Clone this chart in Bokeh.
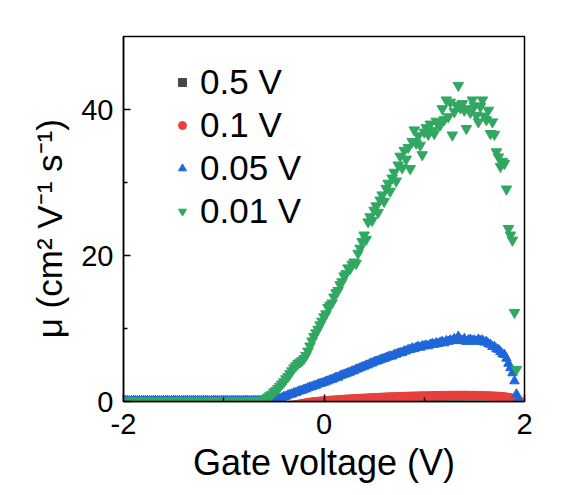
from bokeh.plotting import figure
from bokeh.models import Range1d, FixedTicker, Legend, LegendItem, ColumnDataSource
from bokeh.embed import file_html
from bokeh.resources import INLINE

# ---------------- data ----------------
gate_v = [
    -2.00, -1.98, -1.96, -1.94, -1.92, -1.90, -1.88, -1.86, -1.84, -1.82,
    -1.80, -1.78, -1.76, -1.74, -1.72, -1.70, -1.68, -1.66, -1.64, -1.62,
    -1.60, -1.58, -1.56, -1.54, -1.52, -1.50, -1.48, -1.46, -1.44, -1.42,
    -1.40, -1.38, -1.36, -1.34, -1.32, -1.30, -1.28, -1.26, -1.24, -1.22,
    -1.20, -1.18, -1.16, -1.14, -1.12, -1.10, -1.08, -1.06, -1.04, -1.02,
    -1.00, -0.98, -0.96, -0.94, -0.92, -0.90, -0.88, -0.86, -0.84, -0.82,
    -0.80, -0.78, -0.76, -0.74, -0.72, -0.70, -0.68, -0.66, -0.64, -0.62,
    -0.60, -0.58, -0.56, -0.54, -0.52, -0.50, -0.48, -0.46, -0.44, -0.42,
    -0.40, -0.38, -0.36, -0.34, -0.32, -0.30, -0.28, -0.26, -0.24, -0.22,
    -0.20, -0.18, -0.16, -0.14, -0.12, -0.10, -0.08, -0.06, -0.04, -0.02,
    0.00, 0.02, 0.04, 0.06, 0.08, 0.10, 0.12, 0.14, 0.16, 0.18,
    0.20, 0.22, 0.24, 0.26, 0.28, 0.30, 0.32, 0.34, 0.36, 0.38,
    0.40, 0.42, 0.44, 0.46, 0.48, 0.50, 0.52, 0.54, 0.56, 0.58,
    0.60, 0.62, 0.64, 0.66, 0.68, 0.70, 0.72, 0.74, 0.76, 0.78,
    0.80, 0.82, 0.84, 0.86, 0.88, 0.90, 0.92, 0.94, 0.96, 0.98,
    1.00, 1.02, 1.04, 1.06, 1.08, 1.10, 1.12, 1.14, 1.16, 1.18,
    1.20, 1.22, 1.24, 1.26, 1.28, 1.30, 1.32, 1.34, 1.36, 1.38,
    1.40, 1.42, 1.44, 1.46, 1.48, 1.50, 1.52, 1.54, 1.56, 1.58,
    1.60, 1.62, 1.64, 1.66, 1.68, 1.70, 1.72, 1.74, 1.76, 1.78,
    1.80, 1.82, 1.84, 1.86, 1.88, 1.90, 1.92, 1.94, 1.96,
]

# mobility at Vd = 0.5 V (squares)
mu_05 = [
    -0.8, -0.8, -0.8, -0.8, -0.8, -0.8, -0.8, -0.8, -0.8, -0.8,
    -0.8, -0.8, -0.8, -0.8, -0.8, -0.8, -0.8, -0.8, -0.8, -0.8,
    -0.8, -0.8, -0.8, -0.8, -0.8, -0.8, -0.8, -0.8, -0.8, -0.8,
    -0.8, -0.8, -0.8, -0.8, -0.8, -0.8, -0.8, -0.8, -0.8, -0.8,
    -0.8, -0.8, -0.8, -0.8, -0.8, -0.8, -0.8, -0.8, -0.8, -0.8,
    -0.8, -0.8, -0.8, -0.8, -0.8, -0.8, -0.8, -0.8, -0.8, -0.8,
    -0.8, -0.8, -0.8, -0.8, -0.8, -0.8, -0.8, -0.8, -0.8, -0.8,
    -0.8, -0.8, -0.8, -0.8, -0.8, -0.8, -0.8, -0.8, -0.8, -0.8,
    -0.8, -0.8, -0.8, -0.8, -0.8, -0.8, -0.8, -0.8, -0.8, -0.8,
    -0.8, -0.8, -0.8, -0.8, -0.8, -0.8, -0.8, -0.8, -0.8, -0.8,
    -0.8, -0.78, -0.76, -0.74, -0.72, -0.7, -0.68, -0.66, -0.64, -0.62,
    -0.6, -0.6, -0.58, -0.58, -0.56, -0.56, -0.55, -0.55, -0.54, -0.54,
    -0.53, -0.53, -0.53, -0.53, -0.53, -0.53, -0.53, -0.53, -0.53, -0.53,
    -0.52, -0.52, -0.52, -0.52, -0.52, -0.52, -0.52, -0.52, -0.52, -0.52,
    -0.5, -0.5, -0.5, -0.5, -0.5, -0.5, -0.5, -0.5, -0.5, -0.5,
    -0.5, -0.5, -0.5, -0.5, -0.5, -0.5, -0.5, -0.5, -0.5, -0.5,
    -0.52, -0.52, -0.52, -0.52, -0.52, -0.52, -0.52, -0.52, -0.52, -0.52,
    -0.53, -0.53, -0.53, -0.53, -0.53, -0.53, -0.53, -0.53, -0.53, -0.53,
    -0.55, -0.56, -0.58, -0.6, -0.62, -0.64, -0.66, -0.68, -0.7, -0.72,
    -0.74, -0.76, -0.78, -0.8, -0.8, -0.8, -0.8, -0.8, -0.8,
]

# mobility at Vd = 0.1 V (circles)
mu_01 = [
    -0.8, -0.8, -0.8, -0.8, -0.8, -0.8, -0.8, -0.8, -0.8, -0.8,
    -0.8, -0.8, -0.8, -0.8, -0.8, -0.8, -0.8, -0.8, -0.8, -0.8,
    -0.8, -0.8, -0.8, -0.8, -0.8, -0.8, -0.8, -0.8, -0.8, -0.8,
    -0.8, -0.8, -0.8, -0.8, -0.8, -0.8, -0.8, -0.8, -0.8, -0.8,
    -0.8, -0.8, -0.8, -0.8, -0.8, -0.8, -0.8, -0.8, -0.8, -0.8,
    -0.8, -0.8, -0.8, -0.8, -0.8, -0.8, -0.8, -0.8, -0.8, -0.8,
    -0.8, -0.8, -0.8, -0.8, -0.8, -0.8, -0.8, -0.8, -0.8, -0.8,
    -0.8, -0.8, -0.8, -0.8, -0.8, -0.8, -0.8, -0.8, -0.8, -0.8,
    -0.8, -0.8, -0.8, -0.8, -0.8, -0.5, -0.45, -0.4, -0.35, -0.3,
    -0.25, -0.2, -0.15, -0.12, -0.08, -0.05, -0.02, 0.0, 0.03, 0.05,
    0.08, 0.1, 0.12, 0.14, 0.16, 0.18, 0.2, 0.22, 0.24, 0.26,
    0.28, 0.3, 0.31, 0.33, 0.35, 0.36, 0.38, 0.39, 0.41, 0.42,
    0.44, 0.45, 0.47, 0.48, 0.5, 0.51, 0.52, 0.54, 0.55, 0.56,
    0.58, 0.59, 0.6, 0.61, 0.62, 0.63, 0.64, 0.65, 0.66, 0.67,
    0.68, 0.69, 0.7, 0.7, 0.71, 0.72, 0.73, 0.73, 0.74, 0.75,
    0.75, 0.76, 0.77, 0.77, 0.78, 0.78, 0.79, 0.79, 0.8, 0.8,
    0.81, 0.81, 0.82, 0.82, 0.82, 0.83, 0.83, 0.83, 0.83, 0.83,
    0.83, 0.83, 0.82, 0.82, 0.82, 0.81, 0.81, 0.8, 0.8, 0.79,
    0.78, 0.77, 0.76, 0.75, 0.74, 0.72, 0.71, 0.69, 0.67, 0.65,
    0.62, 0.59, 0.55, 0.5, 0.44, 0.37, 0.28, 0.15, 0.0,
]

# mobility at Vd = 0.05 V (up triangles)
mu_005 = [
    0.1, 0.12, 0.1, 0.08, 0.1, 0.12, 0.1, 0.1, 0.08, 0.1,
    0.1, 0.12, 0.1, 0.08, 0.1, 0.12, 0.1, 0.1, 0.08, 0.1,
    0.1, 0.12, 0.1, 0.08, 0.1, 0.12, 0.1, 0.1, 0.08, 0.1,
    0.1, 0.12, 0.1, 0.08, 0.1, 0.12, 0.1, 0.1, 0.08, 0.1,
    0.1, 0.12, 0.1, 0.08, 0.1, 0.12, 0.1, 0.1, 0.08, 0.1,
    0.1, 0.12, 0.1, 0.08, 0.1, 0.12, 0.1, 0.1, 0.08, 0.1,
    0.1, 0.12, 0.1, 0.08, 0.1, 0.12, 0.1, 0.1, 0.08, 0.1,
    0.1, 0.12, 0.1, 0.08, 0.1, 0.15, 0.2, 0.35, 0.4, 0.5,
    0.65, 0.7, 0.85, 0.95, 1.0, 1.15, 1.2, 1.35, 1.45, 1.5,
    1.65, 1.7, 1.85, 1.95, 2.0, 2.15, 2.2, 2.35, 2.45, 2.5,
    2.6, 2.75, 2.8, 2.95, 3.0, 3.15, 3.3, 3.3, 3.5, 3.6,
    3.7, 3.8, 3.9, 4.0, 4.15, 4.2, 4.4, 4.45, 4.6, 4.7,
    4.8, 4.95, 5.0, 5.2, 5.25, 5.4, 5.5, 5.55, 5.7, 5.8,
    5.85, 6.0, 6.1, 6.2, 6.2, 6.4, 6.45, 6.6, 6.65, 6.7,
    6.9, 6.9, 7.1, 7.1, 7.3, 7.2, 7.4, 7.5, 7.4, 7.6,
    7.6, 7.7, 7.6, 7.8, 7.9, 7.8, 8.0, 7.9, 8.1, 8.2,
    8.0, 8.3, 8.2, 8.4, 8.3, 8.6, 8.4, 8.9, 8.5, 8.3,
    8.6, 8.2, 8.4, 8.5, 8.3, 8.4, 8.2, 8.5, 8.3, 8.4,
    8.1, 8.2, 7.9, 7.8, 7.5, 7.5, 7.2, 7.1, 6.8, 6.5,
    6.4, 5.9, 5.2, 4.6, 3.9, 2.8, 1.0, 0.3, -0.5,
]

# mobility at Vd = 0.01 V (down triangles)
mu_001 = [
    0.1, 0.08, 0.1, 0.12, 0.1, 0.08, 0.1, 0.1, 0.12, 0.1,
    0.1, 0.08, 0.1, 0.12, 0.1, 0.08, 0.1, 0.1, 0.12, 0.1,
    0.1, 0.08, 0.1, 0.12, 0.1, 0.08, 0.1, 0.1, 0.12, 0.1,
    0.1, 0.08, 0.1, 0.12, 0.1, 0.08, 0.1, 0.1, 0.12, 0.1,
    0.1, 0.08, 0.1, 0.12, 0.1, 0.08, 0.1, 0.1, 0.12, 0.1,
    0.1, 0.08, 0.1, 0.12, 0.1, 0.08, 0.1, 0.1, 0.12, 0.1,
    0.1, 0.08, 0.1, 0.12, 0.1, 0.08, 0.1, 0.1, 0.12, 0.15,
    0.2, 0.4, 0.6, 0.8, 1.0, 1.3, 1.5, 1.8, 2.1, 2.4,
    2.7, 3.1, 3.4, 3.8, 4.2, 4.6, 4.9, 5.2, 5.4, 5.6,
    5.9, 6.3, 6.9, 7.6, 8.3, 8.9, 9.4, 9.9, 10.5, 11.0,
    11.6, 12.0, 12.9, 13.2, 13.5, 14.3, 14.9, 15.2, 16.0, 16.4,
    17.2, 17.5, 18.3, 18.2, 18.8, 19.1, 18.9, 20.3, 21.0, 21.9,
    22.8, 22.2, 24.6, 25.3, 24.8, 26.2, 26.8, 25.9, 27.6, 28.3,
    27.4, 29.2, 29.9, 28.8, 30.6, 31.4, 30.2, 32.4, 33.6, 32.0,
    34.4, 33.2, 34.8, 31.9, 35.6, 37.2, 35.4, 36.4, 35.1, 33.8,
    36.9, 37.5, 36.6, 38.0, 37.1, 36.7, 38.4, 38.0, 37.9, 40.1,
    38.6, 41.3, 39.0, 41.0, 36.5, 39.7, 40.6, 43.3, 40.2, 40.8,
    39.9, 37.4, 40.1, 39.6, 41.3, 40.5, 39.2, 38.3, 40.4, 41.3,
    39.1, 38.6, 39.9, 36.7, 38.3, 36.6, 34.2, 33.5, 32.2, 32.9,
    32.6, 29.1, 23.7, 22.8, 22.1, 12.2, 4.4, -2.0, -2.0,
]

series_labels = ["0.5 V", "0.1 V", "0.05 V", "0.01 V"]
x_ticks = [-2, 0, 2]
x_minor_ticks = [-1, 1]
y_ticks = [0, 20, 40]
y_minor_ticks = [10, 30]
x_title = "Gate voltage (V)"
y_title = "μ (cm² V⁻¹ s⁻¹)"

# ---------------- figure ----------------
FONT = "Liberation Sans"

p = figure(frame_width=401, frame_height=365, output_backend="svg", toolbar_location=None,
           x_range=Range1d(-2, 2), y_range=Range1d(0, 50),
           min_border_left=123, min_border_right=40,
           min_border_top=36, min_border_bottom=0)
p.background_fill_color = "white"
p.border_fill_color = "white"
p.grid.visible = False
p.outline_line_color = "black"
p.outline_line_width = 1.5
p.outline_line_alpha = 1.0

src = ColumnDataSource(dict(x=gate_v, a=mu_05, b=mu_01, c=mu_005, d=mu_001))

r_a = p.scatter("x", "a", source=src, marker="square", size=8,
                fill_color="#474747", line_color="#474747")
r_b = p.scatter("x", "b", source=src, marker="circle", size=8.5,
                fill_color="#e8403e", line_color="#e8403e")
r_c = p.scatter("x", "c", source=src, marker="triangle", size=9.5,
                fill_color="#1f66d8", line_color="#1f66d8")
r_d = p.scatter("x", "d", source=src, marker="inverted_triangle", size=10.5,
                fill_color="#30a862", line_color="#30a862")

for ax in (p.xaxis[0], p.yaxis[0]):
    ax.axis_line_width = 1.5
    ax.axis_line_color = "black"
    ax.major_tick_line_width = 1.5
    ax.minor_tick_line_width = 1.5
    ax.major_tick_line_color = "black"
    ax.minor_tick_line_color = "black"
    ax.major_tick_in = 7
    ax.major_tick_out = 0
    ax.minor_tick_in = 4
    ax.minor_tick_out = 0
    ax.major_label_text_font = FONT
    ax.major_label_text_font_size = "29px"
    ax.major_label_text_color = "black"
    ax.axis_label_text_font = FONT
    ax.axis_label_text_font_size = "36px"
    ax.axis_label_text_font_style = "normal"
    ax.axis_label_text_color = "black"

p.xaxis[0].ticker = FixedTicker(ticks=x_ticks, minor_ticks=x_minor_ticks)
p.yaxis[0].ticker = FixedTicker(ticks=y_ticks, minor_ticks=y_minor_ticks)
p.xaxis[0].major_label_overrides = {-2: "-2"}
p.xaxis[0].axis_label = x_title
p.xaxis[0].major_label_standoff = 12
p.xaxis[0].axis_label_standoff = 5
p.yaxis[0].major_label_standoff = 10
# two no-break spaces at the end nudge the rotated title toward the bottom
p.yaxis[0].axis_label = y_title + "\u00a0\u00a0"
p.yaxis[0].axis_label_text_font_size = "35px"
p.yaxis[0].axis_label_standoff = 9

legend = Legend(items=[
    LegendItem(label=series_labels[0], renderers=[r_a]),
    LegendItem(label=series_labels[1], renderers=[r_b]),
    LegendItem(label=series_labels[2], renderers=[r_c]),
    LegendItem(label=series_labels[3], renderers=[r_d]),
], location=(49, 170))
legend.border_line_color = None
legend.background_fill_alpha = 0
legend.label_text_font = FONT
legend.label_text_font_size = "35px"
legend.label_text_color = "black"
legend.glyph_width = 20
legend.glyph_height = 40
legend.label_height = 40
legend.label_standoff = 8
legend.spacing = 3
legend.padding = 0
legend.margin = 0
p.add_layout(legend)

open("out.html", "w").write(file_html(p, INLINE))
